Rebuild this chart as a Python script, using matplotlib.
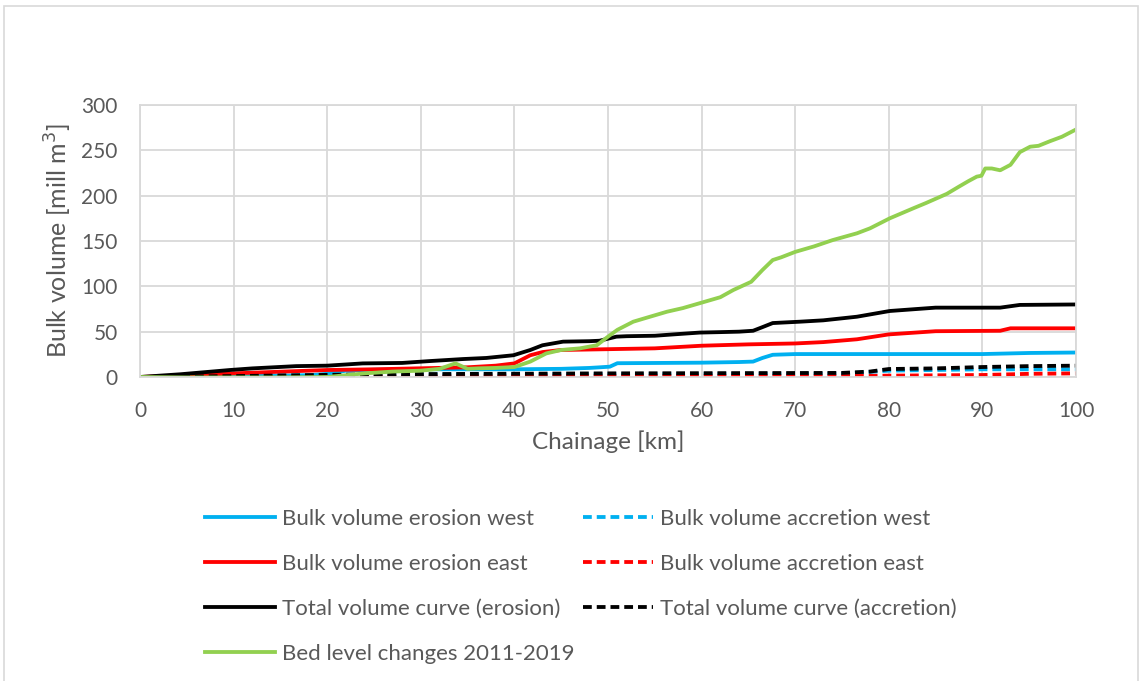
import matplotlib.pyplot as plt
from matplotlib.patches import Rectangle

# bed level changes 2011-2019
bed_km = [0, 5, 10, 15, 20, 22, 24, 27, 30, 32, 33.7, 35, 36.3, 38, 40, 41.7, 43.4, 45, 47, 48.8,
          50, 51, 52.7, 54, 56.3, 58, 60, 62, 63.4, 65.3, 66.5, 67.6, 68.5, 70, 72, 74, 76.6, 78,
          80.1, 82.6, 84, 86.2, 87.5, 88.5, 89.4, 89.9, 90.3, 91, 91.9, 93, 94, 95.1, 96, 97.2,
          98.5, 100]
bed_vol = [0, -0.5, -0.5, -0.5, 0, 2, 4, 6, 7, 9, 15, 9, 9.6, 10, 11, 17, 26, 29.8, 31.6, 35,
           44.5, 52, 61, 65, 72, 76, 82, 88, 96, 105, 118, 129, 132, 138, 144, 151, 158.5, 164,
           175, 186, 192, 202, 210, 216, 221, 222, 230, 230, 228, 234, 248, 254, 255, 260,
           265, 273]

tot_ero_km = [0, 4.3, 9.6, 12, 16.7, 20, 23.8, 28, 31, 34.5, 37, 39.9, 41.7, 43, 45.2, 48, 49.1,
              50.9, 52, 55, 57, 59.8, 62, 64, 65.5, 66.5, 67.6, 70.5, 73, 76.6, 80.1, 83, 85,
              91.9, 94, 100]
tot_ero = [0, 3, 7.7, 9.5, 12, 12.5, 15, 15.5, 17.6, 19.8, 21, 24, 29.8, 35, 39, 39.5, 40,
           44.5, 45, 45.5, 47, 49, 49.5, 50, 51, 55, 59.5, 61, 62.5, 66.5, 72.8, 75, 76.5,
           76.5, 79.5, 80]

east_ero_km = [0, 10, 20, 25, 30, 35, 38, 40, 41.7, 43, 45, 49, 55, 60, 65, 70, 73, 76.6, 80,
               85, 91.9, 93, 100]
east_ero = [0, 4, 7.7, 8.5, 9.6, 10.7, 12.5, 15, 24, 27.5, 29.8, 30.5, 31.6, 34.5, 36, 37,
            38.5, 41.6, 47, 50.5, 51, 53.7, 53.7]

west_ero_km = [0, 10, 18, 20, 22, 25, 30, 40, 45, 48, 49, 50.2, 51, 60, 64, 65.5, 66.5, 67.6,
               70, 90, 95, 100]
west_ero = [0, 1, 2, 3.5, 7, 8, 8.5, 8.5, 9, 10, 10.6, 11.4, 15.2, 15.8, 16.5, 17, 21, 24.5,
            25.3, 25.3, 26.5, 27]

tot_acc_km = [0, 10, 25, 50, 75, 78, 80, 85, 90, 95, 100]
tot_acc = [0, 1, 3, 4, 4.5, 6, 8.8, 9.5, 11, 12, 12.5]

east_acc_km = [0, 25, 50, 75, 80, 90, 95, 100]
east_acc = [0, 0.5, 1, 1, 1.5, 2.2, 3.5, 4]

west_acc_km = [0, 25, 50, 75, 80, 90, 95, 100]
west_acc = [0, 2.5, 3, 3.5, 7, 8.5, 8.5, 8.5]

plt.rcParams['font.family'] = ['Lato', 'DejaVu Sans']
txt = '#595959'
grid = '#D9D9D9'
lw = 2.75
dash = (2.3, 1.3)

fig = plt.figure(figsize=(11.41, 6.81), dpi=100)
fig.patches.append(Rectangle((4 / 1141, -0.1), 1134 / 1141, 1 - 6 / 681 + 0.1,
                             transform=fig.transFigure, fill=False, edgecolor=grid, lw=1.2))
ax = fig.add_axes([140 / 1141, 1 - 377 / 681, (1076 - 140) / 1141, (377 - 105) / 681])

l1, = ax.plot(west_ero_km, west_ero, color='#00B0F0', lw=lw, label='Bulk volume erosion west')
l2, = ax.plot(west_acc_km, west_acc, color='#00B0F0', lw=lw, dashes=dash, label='Bulk volume accretion west')
l3, = ax.plot(east_ero_km, east_ero, color='#FF0000', lw=lw, label='Bulk volume erosion east')
l4, = ax.plot(east_acc_km, east_acc, color='#FF0000', lw=lw, dashes=dash, label='Bulk volume accretion east')
l5, = ax.plot(tot_ero_km, tot_ero, color='black', lw=lw, label='Total volume curve (erosion)')
l6, = ax.plot(tot_acc_km, tot_acc, color='black', lw=lw, dashes=dash, label='Total volume curve (accretion)')
l7, = ax.plot(bed_km, bed_vol, color='#92D050', lw=lw, label='Bed level changes 2011-2019')

ax.set_xlim(0, 100)
ax.set_ylim(0, 300)
ax.set_xticks(range(0, 101, 10))
ax.set_yticks(range(0, 301, 50))
ax.grid(True, color=grid, lw=1.3)
ax.set_axisbelow(True)
for s in ax.spines.values():
    s.set_color(grid)
    s.set_linewidth(1.3)
ax.tick_params(length=0, labelsize=15, colors=txt)
ax.tick_params(axis='y', pad=16)
ax.tick_params(axis='x', pad=17)
ax.set_xlabel('Chainage [km]', fontsize=17.5, color=txt, labelpad=7)
ax.set_ylabel('Bulk volume [mill m$^3$]', fontsize=18, color=txt, labelpad=5)

order = [l1, l3, l5, l7, l2, l4, l6]
fig.legend(order, [h.get_label() for h in order],
           ncol=2, loc='upper left', bbox_to_anchor=(185 / 1141, 1 - 489 / 681),
           frameon=False, fontsize=16, labelcolor=txt, handlelength=3.15,
           handletextpad=0.3, columnspacing=0.4, labelspacing=1.12)

fig.savefig('out.png', dpi=100)
